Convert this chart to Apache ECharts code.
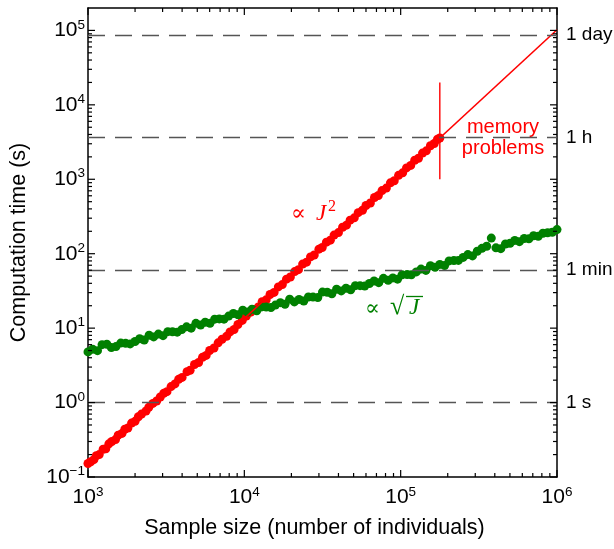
<!DOCTYPE html>
<html>
<head>
<meta charset="utf-8">
<script src="https://cdn.jsdelivr.net/npm/echarts@6/dist/echarts.min.js"></script>
<style>
html, body { margin: 0; padding: 0; background: #fff; }
#chart { width: 614px; height: 549px; }
</style>
</head>
<body>
<div id="chart"></div>
<script>
// tick decades (log axes are drawn as value axes in log10 space)
const xDecades = [1e3, 1e4, 1e5, 1e6]
const yDecades = [1e-1, 1e0, 1e1, 1e2, 1e3, 1e4, 1e5]
const yTop = 2e5
const timeMarks = [86400, 3600, 60, 1]
const timeLabels = ['1 day', '1 h', '1 min', '1 s']

// O(J^2) method, measured times (s)
const redJ = [1000, 1040, 1090, 1130, 1180, 1250, 1300, 1360, 1420, 1500, 1560, 1650, 1720, 1800, 1900, 2000,
  2100, 2200, 2350, 2450, 2600, 2750, 2900, 3050, 3200, 3400, 3600, 3800, 4000, 4300, 4500, 4800, 5100, 5400,
  5700, 6000, 6400, 6800, 7200, 7700, 8100, 8600, 9100, 9700, 10300, 11000, 11600, 12300, 13000, 13800, 14600,
  15500, 16500, 17500, 18600, 19700, 21000, 22200, 23600, 25000, 26500, 28000, 30000, 31500, 33500, 35500,
  37500, 40000, 42500, 45000, 47500, 50500, 53500, 57000, 60000, 64000, 68000, 72000, 76000, 81000, 86000,
  91000, 97000, 103000, 109000, 116000, 123000, 130000, 138000, 146000, 155000, 164000, 172000, 178000]
const redT = [0.152, 0.160, 0.171, 0.193, 0.200, 0.236, 0.240, 0.279, 0.300, 0.318, 0.365, 0.385, 0.438, 0.455,
  0.530, 0.560, 0.645, 0.700, 0.770, 0.865, 0.975, 1.05, 1.19, 1.33, 1.40, 1.64, 1.78, 2.05, 2.18, 2.60, 2.72,
  3.25, 3.45, 4.05, 4.30, 5.00, 5.40, 6.35, 7.10, 7.75, 8.90, 9.60, 11.2, 12.7, 14.5, 16.4, 17.8, 19.2, 22.6,
  24.0, 28.3, 30.2, 35.8, 38.5, 45.5, 48.6, 57.5, 61.0, 72.5, 77.0, 90.5, 96.0, 115, 121, 143, 152, 178, 192,
  227, 242, 282, 303, 356, 383, 445, 480, 568, 605, 705, 762, 895, 955, 1130, 1220, 1420, 1535, 1800, 1915,
  2250, 2410, 2820, 3020, 3450, 3580]

// O(sqrt J) method, measured times (s)
const greenJ = [1000, 1070, 1150, 1230, 1320, 1410, 1510, 1620, 1740, 1860, 2000, 2140, 2290, 2460, 2630, 2820,
  3020, 3240, 3470, 3720, 3980, 4270, 4570, 4900, 5250, 5620, 6030, 6460, 6920, 7410, 7940, 8510, 9120, 9770,
  10500, 11200, 12000, 12900, 13800, 14800, 15800, 17000, 18200, 19500, 20900, 22400, 24000, 25700, 27500,
  29500, 31600, 33900, 36300, 38900, 41700, 44700, 47900, 51300, 55000, 58900, 63100, 67600, 72400, 77600,
  83200, 89100, 95500, 102000, 110000, 117000, 126000, 135000, 145000, 155000, 166000, 178000, 191000, 204000,
  219000, 234000, 251000, 269000, 288000, 309000, 331000, 355000, 380000, 407000, 437000, 468000, 501000,
  537000, 575000, 617000, 661000, 708000, 759000, 813000, 871000, 933000, 1000000]
const greenT = [4.79, 5.20, 4.98, 6.00, 6.08, 5.50, 5.65, 6.30, 6.25, 6.14, 6.61, 7.21, 6.93, 8.02, 7.62, 8.32,
  7.93, 8.97, 8.95, 8.83, 9.55, 10.4, 10.0, 11.6, 11.0, 12.0, 11.6, 13.2, 13.3, 13.2, 14.5, 15.7, 15.1, 17.4,
  16.5, 18.0, 17.1, 19.3, 19.2, 18.9, 20.4, 22.0, 20.9, 24.5, 22.5, 24.3, 23.1, 26.2, 26.1, 25.8, 30.5, 30.3,
  29.0, 33.3, 31.6, 34.3, 32.7, 37.2, 37.2, 36.7, 39.8, 43.0, 40.8, 46.7, 43.9, 47.3, 45.5, 52.0, 52.4, 52.1,
  56.9, 62.1, 59.7, 69.0, 65.6, 71.8, 69.5, 80.0, 81.1, 81.3, 89.1, 97.3, 93.5, 108, 118, 126, 162, 120, 117,
  135, 138, 151, 145, 160, 159, 174, 171, 188, 191, 194, 211]

// J^2 fit extrapolated, and the memory limit marker
const fitJ = [1000, 1000000]
const fitT = [0.155, 102000]
const memoryJ = [178000, 178000]
const memoryT = [1000, 20000]

const lg = Math.log10
const pairs = (xs, ys) => xs.map((x, i) => [lg(x), lg(ys[i])])
const minorOf = (decades) => {
  let out = []
  decades.forEach(d => {
    for (let k = 2; k <= 9; k++) out.push(lg(d * k))
  })
  return out
}

const W = 614, H = 549
const G = { left: 88, right: 57, top: 8, bottom: 72 }
const font = "'Liberation Sans', Arial, Helvetica, sans-serif"
const serif = "'Liberation Serif', 'DejaVu Serif', serif"
const xLo = lg(xDecades[0]), xHi = lg(xDecades[xDecades.length - 1])
const yLo = lg(yDecades[0]), yHi = lg(yTop)
const xMaj = xDecades.map(lg), yMaj = yDecades.map(lg)
const xMin = minorOf(xDecades).filter(v => v < xHi)
const yMin = minorOf(yDecades).filter(v => v < yHi)
const timeLog = timeMarks.map(lg)

// box ticks as [x, y, kind]: 0/1 = x major/minor, 2/3 = y major/minor
const tickData = [].concat(
  xMaj.map(v => [v, yLo, 0]), xMin.map(v => [v, yLo, 1]),
  yMaj.map(v => [xLo, v, 2]), yMin.map(v => [xLo, v, 3])
)

const axisLine = { show: true, onZero: false, lineStyle: { color: '#000', width: 1.5 } }
const sup = v => '{b|10}{s|' + (v < 0 ? '\u2212' + (-v) : v) + '}'
const rich = {
  b: { fontSize: 21, fontFamily: font, color: '#000', lineHeight: 25 },
  s: { fontSize: 13.5, fontFamily: font, color: '#000', lineHeight: 14, verticalAlign: 'top' }
}
const noTick = { show: false }

const chart = echarts.init(document.getElementById('chart'))
chart.setOption({
  animation: false,
  grid: { left: G.left, right: G.right, top: G.top, bottom: G.bottom, containLabel: false, outerBoundsMode: 'none' },
  xAxis: [
    {
      type: 'value', position: 'bottom', min: xLo, max: xHi,
      axisLine: axisLine, axisTick: noTick, splitLine: { show: false },
      axisLabel: { customValues: xMaj, formatter: sup, rich: rich, margin: 8 },
      name: 'Sample size (number of individuals)', nameLocation: 'middle', nameGap: 40,
      nameTextStyle: { fontSize: 21.5, fontFamily: font, color: '#000', padding: [0, 16, 0, 0] }
    },
    {
      type: 'value', position: 'top', min: xLo, max: xHi,
      axisLine: axisLine, axisTick: noTick, splitLine: { show: false }, axisLabel: { show: false }
    }
  ],
  yAxis: [
    {
      type: 'value', position: 'left', min: yLo, max: yHi,
      axisLine: axisLine, axisTick: noTick, splitLine: { show: false },
      axisLabel: { customValues: yMaj, formatter: sup, rich: rich, margin: 3 },
      name: 'Computation time (s)', nameLocation: 'middle', nameGap: 58,
      nameTextStyle: { fontSize: 21.5, fontFamily: font, color: '#000' }
    },
    {
      type: 'value', position: 'right', min: yLo, max: yHi,
      axisLine: axisLine, axisTick: noTick, splitLine: { show: false },
      axisLabel: {
        customValues: timeLog, margin: 9, fontSize: 19, fontFamily: font, color: '#000',
        formatter: v => timeLabels[timeLog.findIndex(t => Math.abs(t - v) < 1e-6)]
      }
    }
  ],
  series: [
    {
      type: 'line', data: pairs(fitJ, fitT), symbol: 'none', silent: true,
      lineStyle: { color: '#ff0000', width: 1.6 },
      markLine: {
        silent: true, symbol: 'none', label: { show: false },
        lineStyle: { color: '#555', width: 1.3, type: [17, 10] },
        data: timeLog.map(v => ({ yAxis: v }))
      }
    },
    {
      type: 'line', data: pairs(memoryJ, memoryT), symbol: 'none', silent: true,
      lineStyle: { color: '#ff0000', width: 1.4 }
    },
    {
      type: 'scatter', data: pairs(redJ, redT), symbolSize: 9, silent: true,
      itemStyle: { color: '#ff0000', opacity: 1 }
    },
    {
      type: 'scatter', data: pairs(greenJ, greenT), symbolSize: 9, silent: true,
      itemStyle: { color: '#008000', opacity: 1 }
    },
    {
      // inside ticks on all four sides, drawn as thin rectangles
      type: 'custom', data: tickData, silent: true, clip: false, z: 20,
      encode: { x: 0, y: 1 },
      renderItem: (params, api) => {
        const cs = params.coordSys
        const kind = api.value(2)
        const len = kind % 2 === 0 ? 7 : 4
        const p = api.coord([api.value(0), api.value(1)])
        const st = { fill: '#000' }
        if (kind < 2) {
          const yb = cs.y + cs.height
          return { type: 'group', children: [
            { type: 'rect', shape: { x: p[0] - 0.6, y: yb - len, width: 1.2, height: len }, style: st },
            { type: 'rect', shape: { x: p[0] - 0.6, y: cs.y, width: 1.2, height: len }, style: st }
          ] }
        }
        const xr = cs.x + cs.width
        return { type: 'group', children: [
          { type: 'rect', shape: { x: cs.x, y: p[1] - 0.6, width: len, height: 1.2 }, style: st },
          { type: 'rect', shape: { x: xr - len, y: p[1] - 0.6, width: len, height: 1.2 }, style: st }
        ] }
      }
    }
  ],
  graphic: [
    {
      type: 'text', x: 503, y: 138, silent: true,
      style: {
        text: 'memory\nproblems', fill: '#ff0000', font: '20px ' + font,
        align: 'center', verticalAlign: 'middle', lineHeight: 21
      }
    },
    // proportional to J^2
    { type: 'text', x: 291, y: 214, silent: true,
      style: { text: '\u221d', fill: '#ff0000', font: '22px ' + serif, verticalAlign: 'middle' } },
    { type: 'text', x: 316, y: 214, silent: true,
      style: { text: 'J', fill: '#ff0000', font: 'italic 23px ' + serif, verticalAlign: 'middle' } },
    { type: 'text', x: 328, y: 207, silent: true,
      style: { text: '2', fill: '#ff0000', font: '16px ' + serif, verticalAlign: 'middle' } },
    // proportional to sqrt(J)
    { type: 'text', x: 365, y: 309, silent: true,
      style: { text: '\u221d', fill: '#008000', font: '22px ' + serif, verticalAlign: 'middle' } },
    { type: 'text', x: 390, y: 307, silent: true,
      style: { text: '\u221a', fill: '#008000', font: '26px ' + serif, verticalAlign: 'middle' } },
    { type: 'text', x: 409, y: 308, silent: true,
      style: { text: 'J', fill: '#008000', font: 'italic 23px ' + serif, verticalAlign: 'middle' } },
    { type: 'line', silent: true,
      shape: { x1: 406, y1: 296.5, x2: 423, y2: 296.5 },
      style: { stroke: '#008000', lineWidth: 1.3 } }
  ]
})
</script>
</body>
</html>
